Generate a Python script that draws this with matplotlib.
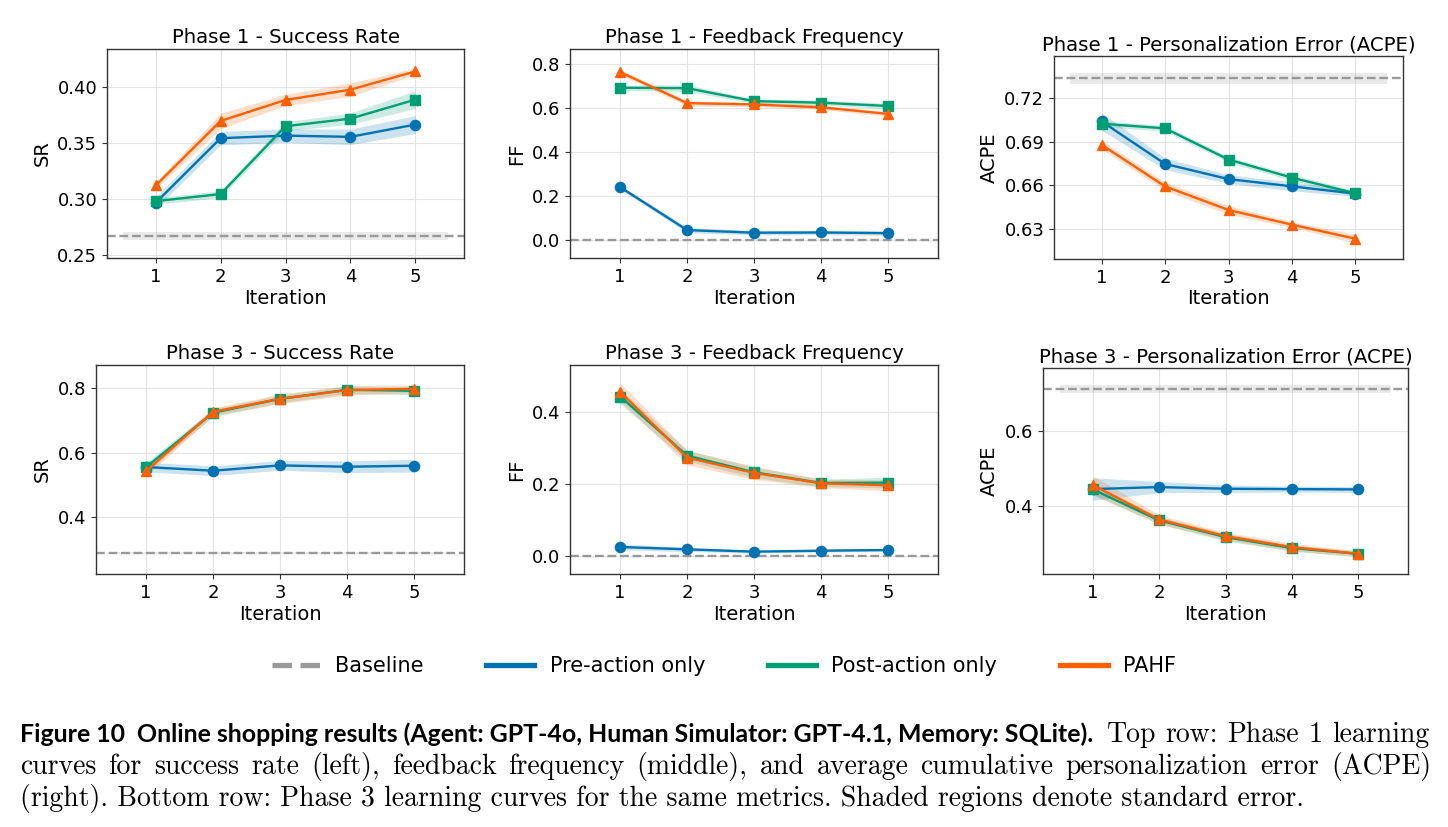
import matplotlib
matplotlib.use('Agg')
import matplotlib.pyplot as plt
from matplotlib.lines import Line2D
import numpy as np

# ---------------- data ----------------
iters = [1, 2, 3, 4, 5]
methods = ['Pre-action only', 'Post-action only', 'PAHF']
colors = ['#0072B2', '#009E73', '#FF5F00']
markers = ['o', 's', '^']
baseline_color = '#999999'

# Phase 1 - Success Rate
p1_sr_pre = [0.2964, 0.3542, 0.3565, 0.3554, 0.3664]
p1_sr_pre_se = [0.005, 0.006, 0.006, 0.007, 0.008]
p1_sr_post = [0.2979, 0.3042, 0.3649, 0.3717, 0.3887]
p1_sr_post_se = [0.003, 0.003, 0.004, 0.005, 0.008]
p1_sr_pahf = [0.3119, 0.3696, 0.3884, 0.3976, 0.4140]
p1_sr_pahf_se = [0.003, 0.007, 0.005, 0.006, 0.003]
p1_sr_base, p1_sr_base_se = 0.2667, 0.0035

# Phase 1 - Feedback Frequency
p1_ff_pre = [0.242, 0.047, 0.035, 0.036, 0.033]
p1_ff_pre_se = [0.010, 0.012, 0.010, 0.010, 0.010]
p1_ff_post = [0.694, 0.692, 0.633, 0.626, 0.611]
p1_ff_post_se = [0.012, 0.015, 0.010, 0.012, 0.012]
p1_ff_pahf = [0.765, 0.624, 0.618, 0.605, 0.575]
p1_ff_pahf_se = [0.012, 0.012, 0.010, 0.010, 0.010]
p1_ff_base, p1_ff_base_se = 0.0, 0.0

# Phase 1 - ACPE
p1_acpe_pre = [0.7039, 0.6746, 0.6641, 0.6591, 0.6541]
p1_acpe_pre_se = [0.006, 0.004, 0.003, 0.003, 0.002]
p1_acpe_post = [0.7023, 0.6991, 0.6776, 0.6651, 0.6543]
p1_acpe_post_se = [0.002, 0.002, 0.002, 0.002, 0.002]
p1_acpe_pahf = [0.6878, 0.6591, 0.6428, 0.6327, 0.6230]
p1_acpe_pahf_se = [0.003, 0.003, 0.003, 0.002, 0.003]
p1_acpe_base, p1_acpe_base_se = 0.7336, 0.004

# Phase 3 - Success Rate
p3_sr_pre = [0.5556, 0.5442, 0.5607, 0.5566, 0.5597]
p3_sr_pre_se = [0.015, 0.015, 0.015, 0.018, 0.020]
p3_sr_post = [0.5556, 0.7240, 0.7670, 0.7950, 0.7920]
p3_sr_post_se = [0.015, 0.012, 0.012, 0.012, 0.012]
p3_sr_pahf = [0.5430, 0.7270, 0.7670, 0.7940, 0.7980]
p3_sr_pahf_se = [0.015, 0.012, 0.015, 0.015, 0.012]
p3_sr_base, p3_sr_base_se = 0.2884, 0.003

# Phase 3 - Feedback Frequency
p3_ff_pre = [0.026, 0.0194, 0.013, 0.0157, 0.0176]
p3_ff_pre_se = [0.008, 0.006, 0.004, 0.004, 0.004]
p3_ff_post = [0.4435, 0.2796, 0.2333, 0.2037, 0.2046]
p3_ff_post_se = [0.020, 0.015, 0.015, 0.010, 0.015]
p3_ff_pahf = [0.4565, 0.2740, 0.2315, 0.2028, 0.1970]
p3_ff_pahf_se = [0.025, 0.020, 0.018, 0.012, 0.015]
p3_ff_base, p3_ff_base_se = 0.0, 0.0

# Phase 3 - ACPE
p3_acpe_pre = [0.4453, 0.4507, 0.4462, 0.4453, 0.4444]
p3_acpe_pre_se = [0.030, 0.015, 0.010, 0.008, 0.008]
p3_acpe_post = [0.4444, 0.3618, 0.3173, 0.2880, 0.2729]
p3_acpe_post_se = [0.015, 0.010, 0.010, 0.008, 0.008]
p3_acpe_pahf = [0.4560, 0.3644, 0.3200, 0.2907, 0.2729]
p3_acpe_pahf_se = [0.025, 0.012, 0.010, 0.010, 0.008]
p3_acpe_base, p3_acpe_base_se = 0.7120, 0.011

titles = ['Phase 1 - Success Rate', 'Phase 1 - Feedback Frequency',
          'Phase 1 - Personalization Error (ACPE)',
          'Phase 3 - Success Rate', 'Phase 3 - Feedback Frequency',
          'Phase 3 - Personalization Error (ACPE)']
ylabels = ['SR', 'FF', 'ACPE', 'SR', 'FF', 'ACPE']
yticks_list = [[0.25, 0.30, 0.35, 0.40], [0.0, 0.2, 0.4, 0.6, 0.8],
               [0.63, 0.66, 0.69, 0.72], [0.4, 0.6, 0.8], [0.0, 0.2, 0.4],
               [0.4, 0.6]]
ytick_fmt = ['{:.2f}', '{:.1f}', '{:.2f}', '{:.1f}', '{:.1f}', '{:.1f}']
ylims = [(0.247, 0.434), (-0.08, 0.87), (0.609, 0.749),
         (0.224, 0.872), (-0.049, 0.531), (0.219, 0.768)]

caption_bold = ('Figure 10  Online shopping results (Agent: GPT-4o, Human '
                'Simulator: GPT-4.1, Memory: SQLite).')
caption_line1_rest = 'Top row: Phase 1 learning'
caption_line2 = ('curves for success rate (left), feedback frequency (middle), '
                 'and average cumulative personalization error (ACPE)')
caption_line3 = ('(right). Bottom row: Phase 3 learning curves for the same '
                 'metrics. Shaded regions denote standard error.')

panels = [
    ((p1_sr_pre, p1_sr_pre_se), (p1_sr_post, p1_sr_post_se), (p1_sr_pahf, p1_sr_pahf_se), (p1_sr_base, p1_sr_base_se)),
    ((p1_ff_pre, p1_ff_pre_se), (p1_ff_post, p1_ff_post_se), (p1_ff_pahf, p1_ff_pahf_se), (p1_ff_base, p1_ff_base_se)),
    ((p1_acpe_pre, p1_acpe_pre_se), (p1_acpe_post, p1_acpe_post_se), (p1_acpe_pahf, p1_acpe_pahf_se), (p1_acpe_base, p1_acpe_base_se)),
    ((p3_sr_pre, p3_sr_pre_se), (p3_sr_post, p3_sr_post_se), (p3_sr_pahf, p3_sr_pahf_se), (p3_sr_base, p3_sr_base_se)),
    ((p3_ff_pre, p3_ff_pre_se), (p3_ff_post, p3_ff_post_se), (p3_ff_pahf, p3_ff_pahf_se), (p3_ff_base, p3_ff_base_se)),
    ((p3_acpe_pre, p3_acpe_pre_se), (p3_acpe_post, p3_acpe_post_se), (p3_acpe_pahf, p3_acpe_pahf_se), (p3_acpe_base, p3_acpe_base_se)),
]

# ---------------- layout ----------------
W, H, DPI = 1448, 827, 100
plt.rcParams['font.family'] = ['DejaVu Sans']
fig = plt.figure(figsize=(W / DPI, H / DPI), dpi=DPI)
fig.patch.set_facecolor('white')

# axes boxes in pixels: left, top, right, bottom
boxes = [(107, 49, 464, 258), (570, 49, 938, 258), (1054, 56, 1403, 259),
         (96, 365, 464, 574), (570, 365, 938, 574), (1043, 368, 1408, 574)]

x = np.array(iters)
for i, (box, pdata) in enumerate(zip(boxes, panels)):
    l, t, r, b = box
    ax = fig.add_axes([l / W, 1 - b / H, (r - l) / W, (b - t) / H])
    base, base_se = pdata[3]
    ax.fill_between([0.5, 5.5], base - base_se, base + base_se,
                    color=baseline_color, alpha=0.2, lw=0, zorder=1)
    ax.axhline(base, color=baseline_color, ls='--', lw=1.7, zorder=2)
    for k in range(3):
        vals, se = pdata[k]
        vals = np.array(vals); se = np.array(se)
        ax.fill_between(x, vals - se, vals + se, color=colors[k], alpha=0.2,
                        lw=0, zorder=3)
        ax.plot(x, vals, color=colors[k], marker=markers[k], ms=7.3, lw=1.7,
                zorder=4 + k)
    ax.set_xlim(0.25, 5.75)
    ax.set_ylim(*ylims[i])
    ax.set_xticks(iters)
    ax.set_xticklabels([str(v) for v in iters])
    ax.set_yticks(yticks_list[i])
    ax.set_yticklabels([ytick_fmt[i].format(v) for v in yticks_list[i]])
    ax.tick_params(labelsize=13, length=3.5, width=0.8, color='#333333')
    ax.grid(True, color='#dddddd', lw=0.8, alpha=0.8)
    ax.set_axisbelow(True)
    for s in ax.spines.values():
        s.set_color('#333333'); s.set_linewidth(1.0)
    ax.set_title(titles[i], fontsize=14.2, pad=4)
    ax.set_ylabel(ylabels[i], fontsize=14, labelpad=4)
    ax.set_xlabel('Iteration', fontsize=14, labelpad=2)

# ---------------- legend ----------------
handles = [Line2D([], [], color=baseline_color, ls='--', lw=3.8)]
handles += [Line2D([], [], color=c, lw=3.8) for c in colors]
labels = ['Baseline'] + methods
fig.legend(handles, labels, loc='center', bbox_to_anchor=(0.5, 1 - 666 / H),
           ncol=4, frameon=False, fontsize=15, handlelength=2.3,
           handletextpad=0.75, columnspacing=3.0)

# ---------------- caption ----------------
fig.canvas.draw()
rend = fig.canvas.get_renderer()
SERIF = 'cmr10'

def twidth(s, **kw):
    t = fig.text(0, 0, s, **kw)
    w = t.get_window_extent(rend).width
    t.remove()
    return w

def put(xp, yp, s, **kw):
    return fig.text(xp / W, 1 - yp / H, s, va='baseline', ha='left', **kw)

# serif size so that the last (unjustified) line is ~1285 px wide
w1 = twidth(caption_line3, family=SERIF, fontsize=10)
serif_size = 10 * 1285 / w1
# bold size so that the bold part spans 20 -> 1097
wb = twidth(caption_bold, family='Lato', weight='bold', fontsize=10)
bold_size = 10 * 1077 / wb

def justify(words, x0, x1, yb):
    ws = [twidth(w_, family=SERIF, fontsize=serif_size) for w_ in words]
    gap = (x1 - x0 - sum(ws)) / (len(words) - 1)
    xc = x0
    for w_, ww in zip(words, ws):
        put(xc, yb, w_, family=SERIF, fontsize=serif_size)
        xc += ww + gap

put(20, 742, caption_bold, family='Lato', weight='bold', fontsize=bold_size)
justify(caption_line1_rest.split(' '), 1107, 1429, 742)
justify(caption_line2.split(' '), 20, 1431, 774)
put(20, 806, caption_line3, family=SERIF, fontsize=serif_size)

fig.savefig('out.png', dpi=DPI, facecolor='white')
